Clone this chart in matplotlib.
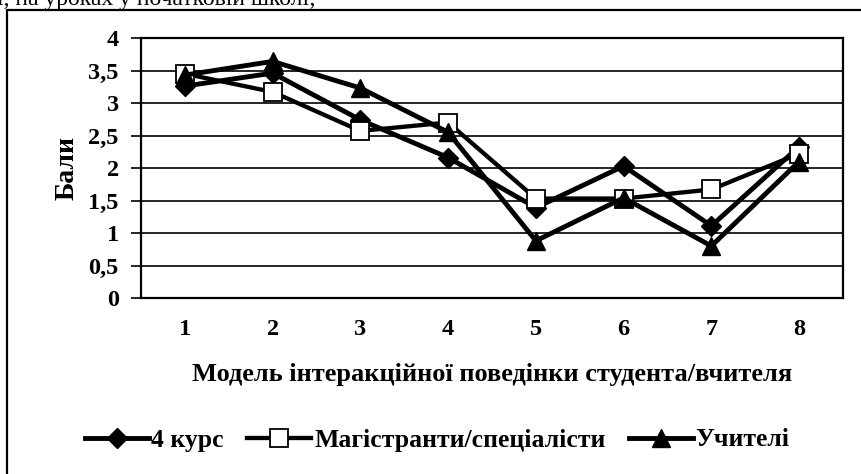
import matplotlib.pyplot as plt
from matplotlib.patches import Rectangle

# data
categories = [1, 2, 3, 4, 5, 6, 7, 8]
kurs4 = [3.26, 3.46, 2.74, 2.16, 1.39, 2.03, 1.11, 2.33]
magistry = [3.45, 3.17, 2.57, 2.70, 1.53, 1.53, 1.67, 2.22]
uchyteli = [3.43, 3.64, 3.23, 2.55, 0.88, 1.54, 0.80, 2.10]
series_labels = ["4 курс", "Магістранти/спеціалісти", "Учителі"]
y_ticks = [0, 0.5, 1, 1.5, 2, 2.5, 3, 3.5, 4]
y_tick_labels = ["0", "0,5", "1", "1,5", "2", "2,5", "3", "3,5", "4"]

FONT = "Liberation Serif"


def main():
    plt.rcParams["font.family"] = [FONT, "DejaVu Serif"]
    fig = plt.figure(figsize=(8.62, 4.74), dpi=100)

    # cropped line of running text above the chart
    fig.text(-0.003, 1 - 5 / 474, "і, на уроках у початковій школі;",
             fontsize=17, va="baseline", ha="left")

    # outer chart frame (runs off the right and bottom of the crop)
    fig.patches.append(Rectangle((7 / 862, -0.05), 1.2, 1 - 10 / 474 + 0.05,
                                 transform=fig.transFigure, fill=False,
                                 edgecolor="black", linewidth=1.6,
                                 clip_on=False))

    ax = fig.add_axes([141 / 862, 1 - 298 / 474, (843 - 141) / 862, 260 / 474])

    ax.plot(categories, kurs4, marker="D", markersize=10.5, color="black",
            linewidth=3.5, label=series_labels[0], zorder=3)
    ax.plot(categories, magistry, marker="s", markerfacecolor="white",
            markeredgecolor="black", markeredgewidth=1.3, color="black",
            linewidth=3.1, markersize=12.5, label=series_labels[1], zorder=3)
    ax.plot(categories, uchyteli, marker="^", color="black", linewidth=3.5,
            markersize=12.5, label=series_labels[2], zorder=3)

    ax.set_xlim(0.5, 8.5)
    ax.set_ylim(0, 4)
    ax.set_yticks(y_ticks)
    ax.set_yticklabels(y_tick_labels)
    ax.set_xticks(categories)
    ax.set_xticklabels([str(c) for c in categories])
    ax.grid(axis="y", color="black", linewidth=1.2)
    ax.set_axisbelow(True)

    for spine in ax.spines.values():
        spine.set_linewidth(1.6)

    ax.tick_params(axis="y", direction="out", length=7, width=1.2, pad=9)
    ax.tick_params(axis="x", length=0, pad=15)
    for lab in ax.get_xticklabels() + ax.get_yticklabels():
        lab.set_fontsize(17.5)
        lab.set_fontweight("bold")

    ax.set_ylabel("Бали", fontsize=20, fontweight="bold", labelpad=6)
    ax.set_xlabel("Модель інтеракційної поведінки студента/вчителя",
                  fontsize=19, fontweight="bold", labelpad=17)

    fig.legend(loc="center", bbox_to_anchor=(437 / 862, 1 - 440 / 474),
               ncol=3, frameon=False, handlelength=2.5, handletextpad=0.1,
               columnspacing=0.9, prop=dict(family=FONT, weight="bold",
                                            size=18.5))

    fig.savefig("out.png", dpi=100)
    plt.close(fig)


if __name__ == "__main__":
    main()
